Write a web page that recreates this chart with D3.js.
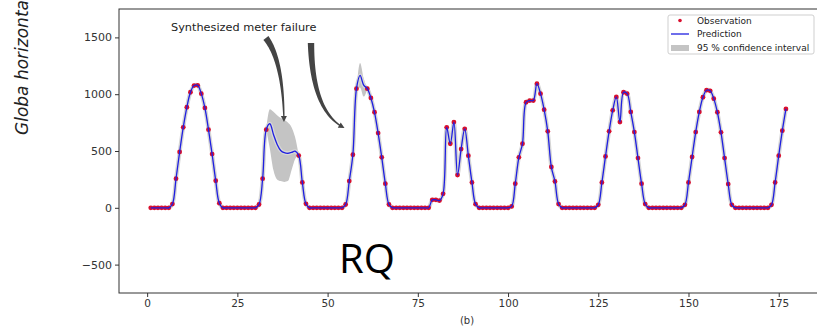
<!DOCTYPE html>
<html>
<head>
<meta charset="utf-8">
<script src="https://cdn.jsdelivr.net/npm/d3@7"></script>
<style>
  body { margin: 0; background: #fff; }
  text { font-family: "DejaVu Sans", sans-serif; }
</style>
</head>
<body>
<div class="container"></div>
<script>
const WIDTH = 817;
const HEIGHT = 326;

// hourly observations, first hour = 1, null = synthesized meter failure
const firstHour = 1;
const observation = [
  0, 0, 0, 0, 0, 0,
  33, 256, 491, 708, 885, 1017, 1076, 1078, 1005, 879, 688, 473, 238, 41,
  0, 0, 0, 0, 0, 0, 0, 0, 0, 0,
  29, 256, 688,
  null, null, null, null, null, null, null, null,
  460, 223, 35,
  0, 0, 0, 0, 0, 0, 0, 0, 0, 0,
  29, 235, 467, 1049,
  null, null,
  1049, 967, 841, 658, 444, 212, 29,
  0, 0, 0, 0, 0, 0, 0, 0, 0, 0, 0,
  70, 70, 64, 123, 708, 564, 755, 288, 517, 695, 459, 223, 32,
  0, 0, 0, 0, 0, 0, 0, 0, 0, 12,
  212, 444, 564, 929, 944, 944, 1093, 1005, 864, 673, 359, 232, 33,
  0, 0, 0, 0, 0, 0, 0, 0, 0, 0,
  26, 223, 452, 673, 858, 976, 755, 1017, 1005, 844, 667, 438, 212, 33,
  0, 0, 0, 0, 0, 0, 0, 0, 0, 0,
  26, 223, 447, 667, 844, 973, 1035, 1030, 961, 841, 664, 438, 209, 26,
  0, 0, 0, 0, 0, 0, 0, 0, 0, 0,
  26, 223, 459, 679, 870
];

// prediction where the meter was off
const gapHours = [34, 35, 36, 37, 38, 39, 40, 41, 59, 60];
const gapPrediction = [740, 645, 560, 505, 485, 480, 488, 498, 1165, 1080];

// 95 % confidence interval around the two gaps
const band1Hours = [33, 34, 35, 36, 37, 38, 39, 40, 41, 42];
const band1Low = [688, 520, 330, 250, 235, 228, 235, 330, 430, 460];
const band1High = [700, 868, 845, 815, 790, 775, 750, 710, 620, 462];
const band2Hours = [58, 59, 60, 61];
const band2Low = [1049, 1060, 980, 1049];
const band2High = [1049, 1275, 1140, 1049];

const xTicks = [0, 25, 50, 75, 100, 125, 150, 175];
const yTicks = [-500, 0, 500, 1000, 1500];
const legendLabels = ["Observation", "Prediction", "95 % confidence interval"];

const LEFT = 119, TOP = 9, BOTTOM = 293, RIGHT = 817.7;

var svg = d3.select('.container').append('svg')
  .attr('width', WIDTH)
  .attr('height', HEIGHT);

var xScale = d3.scaleLinear().domain([-7.8, 185.8]).range([LEFT, RIGHT]);
var yScale = d3.scaleLinear().domain([-750, 1750]).range([BOTTOM, TOP]);

var obsPoints = observation.map(function(v, i) { return [firstHour + i, v]; });
var predPoints = obsPoints.map(function(p) {
  var k = gapHours.indexOf(p[0]);
  return [p[0], k >= 0 ? gapPrediction[k] : p[1]];
});

// bands
var area = d3.area()
  .x(function(d) { return xScale(d[0]); })
  .y0(function(d) { return yScale(d[1]); })
  .y1(function(d) { return yScale(d[2]); })
  .curve(d3.curveMonotoneX);

[[band1Hours, band1Low, band1High], [band2Hours, band2Low, band2High]].forEach(function(b) {
  var pts = b[0].map(function(h, i) { return [h, b[1][i], b[2][i]]; });
  svg.append('path')
    .datum(pts)
    .attr('d', area)
    .attr('fill', '#c4c4c4');
});

var line = d3.line()
  .x(function(d) { return xScale(d[0]); })
  .y(function(d) { return yScale(d[1]); })
  .curve(d3.curveCatmullRom.alpha(0.5));

// faint interval haze along the whole series
svg.append('path')
  .datum(predPoints)
  .attr('d', line)
  .attr('fill', 'none')
  .attr('stroke', '#d6d6d6')
  .attr('stroke-width', 4);

svg.append('g').selectAll('circle')
  .data(obsPoints.filter(function(d) { return d[1] !== null; }))
  .enter().append('circle')
  .attr('r', 2.4)
  .attr('cx', function(d) { return xScale(d[0]); })
  .attr('cy', function(d) { return yScale(d[1]); })
  .attr('fill', '#d90f2e');

svg.append('path')
  .datum(predPoints)
  .attr('d', line)
  .attr('fill', 'none')
  .attr('stroke', '#1f1fe0')
  .attr('stroke-width', 1.3);

// axes
var fmt = d3.format('d');
var xAxis = d3.axisBottom(xScale).tickValues(xTicks).tickFormat(fmt).tickSize(4).tickSizeOuter(0).tickPadding(3);
var yAxis = d3.axisLeft(yScale).tickValues(yTicks).tickFormat(fmt).tickSize(4).tickSizeOuter(0).tickPadding(3);

var gx = svg.append('g').attr('transform', 'translate(0,' + BOTTOM + ')').call(xAxis);
var gy = svg.append('g').attr('transform', 'translate(' + LEFT + ',0)').call(yAxis);
[gx, gy].forEach(function(g) {
  g.select('.domain').remove();
  g.selectAll('line').attr('stroke', '#333');
  g.selectAll('text').attr('fill', '#333').style('font-family', '"DejaVu Sans", sans-serif');
});
gx.selectAll('text').style('font-size', '10.5px');
gy.selectAll('text').style('font-size', '11px');

svg.append('rect')
  .attr('x', LEFT).attr('y', TOP)
  .attr('width', RIGHT - LEFT).attr('height', BOTTOM - TOP)
  .attr('fill', 'none').attr('stroke', '#333').attr('stroke-width', 1);

svg.append('text')
  .attr('transform', 'translate(28,135) rotate(-90)')
  .attr('font-size', '17px')
  .attr('font-style', 'italic')
  .attr('fill', '#222')
  .text('Globa horizonta');

svg.append('text')
  .attr('x', 467).attr('y', 324)
  .attr('text-anchor', 'middle')
  .attr('font-size', '10px')
  .attr('fill', '#333')
  .text('(b)');

// annotation
svg.append('text')
  .attr('x', xScale(6.6)).attr('y', yScale(1556))
  .attr('font-size', '11.3px')
  .attr('fill', '#222')
  .text('Synthesized meter failure');

var taperedArrow = function(p0, c, p1) {
  var P = [p0, c, p1].map(function(p) { return [xScale(p[0]), yScale(p[1])]; });
  var n = 30, left = [], right = [];
  for (var i = 0; i <= n; i++) {
    var t = i / n, u = 1 - t;
    var x = u * u * P[0][0] + 2 * u * t * P[1][0] + t * t * P[2][0];
    var y = u * u * P[0][1] + 2 * u * t * P[1][1] + t * t * P[2][1];
    var dx = 2 * u * (P[1][0] - P[0][0]) + 2 * t * (P[2][0] - P[1][0]);
    var dy = 2 * u * (P[1][1] - P[0][1]) + 2 * t * (P[2][1] - P[1][1]);
    var len = Math.sqrt(dx * dx + dy * dy);
    var w = 3.2 * (1 - t) + 0.6 * t;
    left.push([x - dy / len * w, y + dx / len * w]);
    right.push([x + dy / len * w, y - dx / len * w]);
  }
  var pts = left.concat(right.reverse());
  svg.append('path')
    .attr('d', 'M' + pts.join('L') + 'Z')
    .attr('fill', '#444');
  // head
  var ex = P[2][0], ey = P[2][1];
  var hx = P[2][0] - P[1][0], hy = P[2][1] - P[1][1];
  var hl = Math.sqrt(hx * hx + hy * hy);
  hx /= hl; hy /= hl;
  svg.append('path')
    .attr('d', 'M' + [ex + hx * 2, ey + hy * 2] + 'L' + [ex - hx * 4 - hy * 3, ey - hy * 4 + hx * 3] +
      'L' + [ex - hx * 4 + hy * 3, ey - hy * 4 - hx * 3] + 'Z')
    .attr('fill', '#444');
};
taperedArrow([32.9, 1495], [37.6, 1301], [37.9, 773]);
taperedArrow([45.4, 1451], [45.7, 861], [54.2, 711]);

// legend
var lg = svg.append('g');
lg.append('rect')
  .attr('x', 668).attr('y', 15).attr('width', 146).attr('height', 39).attr('rx', 2)
  .attr('fill', '#fff').attr('stroke', '#cfcfcf');
lg.append('circle').attr('cx', 680).attr('cy', 20.5).attr('r', 1.8).attr('fill', '#d90f2e');
lg.append('line').attr('x1', 671).attr('x2', 689).attr('y1', 34).attr('y2', 34)
  .attr('stroke', '#1f1fe0').attr('stroke-width', 1.3);
lg.append('rect').attr('x', 671).attr('y', 45).attr('width', 18).attr('height', 6).attr('fill', '#c4c4c4');
lg.selectAll('text.lab')
  .data(legendLabels)
  .enter().append('text')
  .attr('class', 'lab')
  .attr('x', 697)
  .attr('y', function(d, i) { return 23.5 + i * 13.7; })
  .attr('font-size', '9px')
  .attr('fill', '#222')
  .text(function(d) { return d; });

svg.append('text')
  .attr('x', 339).attr('y', 273)
  .attr('font-size', '40px')
  .attr('fill', '#000')
  .style('font-family', '"Open Sans", sans-serif')
  .text('RQ');
</script>
</body>
</html>
